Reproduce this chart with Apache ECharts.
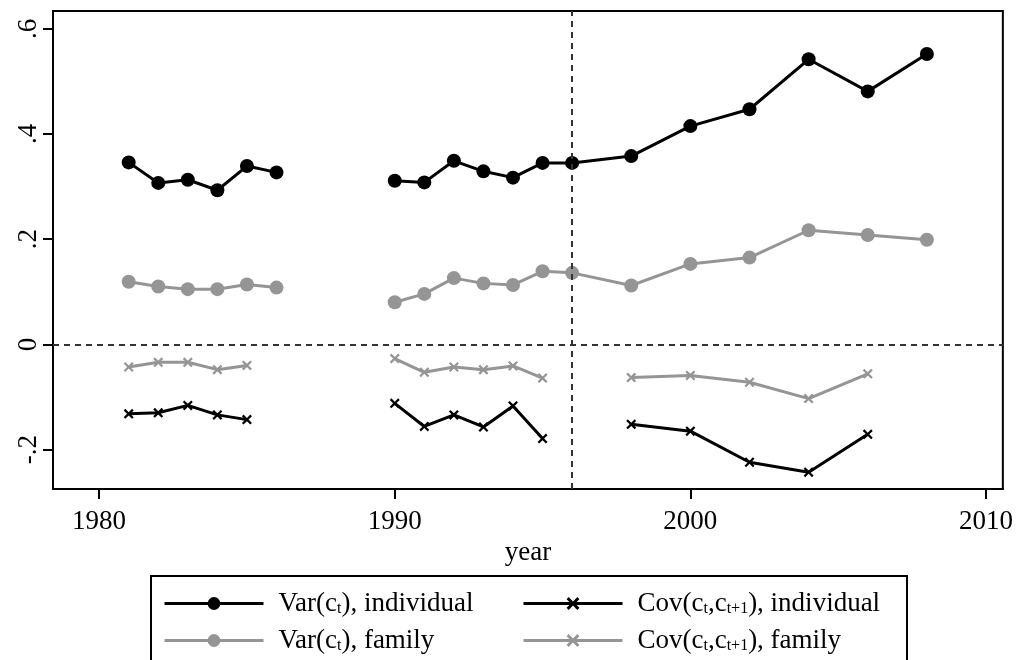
<!DOCTYPE html>
<html>
<head>
<meta charset="utf-8">
<script src="https://cdn.jsdelivr.net/npm/echarts@6/dist/echarts.min.js"></script>
<style>
  html, body { margin: 0; padding: 0; background: #fff; }
  #main { width: 1016px; height: 660px; }
</style>
</head>
<body>
<div id="main"></div>
<script>
// survey years; 1988 is only a gap marker so the lines break there
var years = [1981, 1982, 1983, 1984, 1985, 1986, 1988, 1990, 1991, 1992, 1993, 1994, 1995, 1996, 1998, 2000, 2002, 2004, 2006, 2008];
var varInd = [0.346, 0.307, 0.313, 0.293, 0.339, 0.327, null, 0.311, 0.308, 0.349, 0.329, 0.317, 0.345, 0.345, 0.358, 0.415, 0.447, 0.542, 0.481, 0.552];
var varFam = [0.119, 0.110, 0.105, 0.105, 0.114, 0.108, null, 0.080, 0.096, 0.126, 0.116, 0.113, 0.139, 0.136, 0.112, 0.153, 0.165, 0.217, 0.208, 0.199];
var covInd = [-0.132, -0.130, -0.116, -0.134, -0.143, null, null, -0.112, -0.156, -0.134, -0.157, -0.117, -0.179, null, -0.152, -0.165, -0.224, -0.243, -0.171, null];
var covFam = [-0.043, -0.034, -0.034, -0.048, -0.040, null, null, -0.027, -0.053, -0.043, -0.048, -0.041, -0.064, null, -0.063, -0.059, -0.072, -0.103, -0.056, null];

var xTicks = [1980, 1990, 2000, 2010];
var yTicks = [-0.2, 0, 0.2, 0.4, 0.6];

var legendText = {
    varInd: 'Var(c{s|t}), individual',
    covInd: 'Cov(c{s|t},c{s|t+1}), individual',
    varFam: 'Var(c{s|t}), family',
    covFam: 'Cov(c{s|t},c{s|t+1}), family'
};

var FONT = 'Liberation Serif';
var GRAY = '#959595';
var CROSS = 'path://M0,1.6L1.6,0L5,3.4L8.4,0L10,1.6L6.6,5L10,8.4L8.4,10L5,6.6L1.6,10L0,8.4L3.4,5Z';

function pairs(vals) {
    return years.map(function (y, i) { return [y, vals[i]]; });
}

function yLabel(v) {
    if (v === 0) return '0';
    var s = String(Math.abs(v)).replace('0.', '.');
    return v < 0 ? '-' + s : s;
}

var myChart = echarts.init(document.getElementById('main'));

var legendTextStyle = {
    fontFamily: FONT,
    fontSize: 27,
    color: '#000',
    padding: [0, 0, 0, 10],
    rich: {
        s: { fontFamily: FONT, fontSize: 16, color: '#000', verticalAlign: 'bottom', lineHeight: 10 }
    }
};

var option = {
    animation: false,
    backgroundColor: '#fff',
    grid: {
        left: 53, right: 11, top: 11, bottom: 171,
        show: true, borderColor: '#000', borderWidth: 2
    },
    xAxis: {
        type: 'value',
        min: 1978.44,
        max: 2010.57,
        name: 'year',
        nameLocation: 'middle',
        nameGap: 43,
        nameTextStyle: { fontFamily: FONT, fontSize: 27, color: '#000' },
        axisLine: { show: true, onZero: false, lineStyle: { color: '#000', width: 2 } },
        axisTick: { show: true, length: 10, lineStyle: { color: '#000', width: 2 }, customValues: xTicks },
        axisLabel: {
            fontFamily: FONT, fontSize: 27, color: '#000', margin: 19, customValues: xTicks,
            formatter: function (v) { return String(v); }
        },
        splitLine: { show: false }
    },
    yAxis: {
        type: 'value',
        min: -0.2749,
        max: 0.6338,
        axisLine: { show: true, onZero: false, lineStyle: { color: '#000', width: 2 } },
        axisTick: { show: true, length: 10, lineStyle: { color: '#000', width: 2 }, customValues: yTicks },
        axisLabel: {
            fontFamily: FONT, fontSize: 27, color: '#000', margin: 11, rotate: 90,
            customValues: yTicks, formatter: yLabel
        },
        splitLine: { show: false }
    },
    legend: [
        {
            left: 163, top: 590, padding: 0, orient: 'vertical', itemGap: 10,
            itemWidth: 99, itemHeight: 16, selectedMode: false,
            lineStyle: { width: 3 },
            data: ['varInd', 'varFam'],
            formatter: function (n) { return legendText[n]; },
            textStyle: legendTextStyle
        },
        {
            left: 522, top: 590, padding: 0, orient: 'vertical', itemGap: 10,
            itemWidth: 99, itemHeight: 16, selectedMode: false,
            lineStyle: { width: 3 },
            data: ['covInd', 'covFam'],
            formatter: function (n) { return legendText[n]; },
            textStyle: legendTextStyle
        }
    ],
    graphic: [{
        type: 'rect',
        shape: { x: 151, y: 576, width: 756, height: 120 },
        style: { fill: 'none', stroke: '#000', lineWidth: 2 },
        silent: true
    }],
    series: [
        {
            name: 'varFam', type: 'line', data: pairs(varFam),
            symbol: 'circle', symbolSize: 14, connectNulls: false,
            lineStyle: { color: GRAY, width: 3 }, itemStyle: { color: GRAY }
        },
        {
            name: 'covFam', type: 'line', data: pairs(covFam),
            symbol: CROSS, symbolSize: 10, connectNulls: false,
            lineStyle: { color: GRAY, width: 3 }, itemStyle: { color: GRAY }
        },
        {
            name: 'covInd', type: 'line', data: pairs(covInd),
            symbol: CROSS, symbolSize: 10, connectNulls: false,
            lineStyle: { color: '#000', width: 3 }, itemStyle: { color: '#000' }
        },
        {
            name: 'varInd', type: 'line', data: pairs(varInd),
            symbol: 'circle', symbolSize: 14, connectNulls: false,
            lineStyle: { color: '#000', width: 3 }, itemStyle: { color: '#000' },
            markLine: {
                silent: true,
                symbol: 'none',
                label: { show: false },
                lineStyle: { color: '#333', width: 2, type: [6, 5] },
                data: [{ yAxis: 0 }, { xAxis: 1996 }]
            }
        }
    ]
};

myChart.setOption(option);
</script>
</body>
</html>
